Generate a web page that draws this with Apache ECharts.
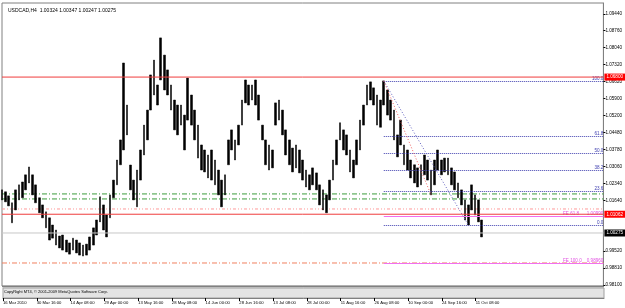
<!DOCTYPE html>
<html>
<head>
<meta charset="utf-8">
<script src="https://cdn.jsdelivr.net/npm/echarts@6/dist/echarts.min.js"></script>
<style>
html, body { margin: 0; padding: 0; background: #fff; }
#main { width: 625px; height: 308px; }
</style>
</head>
<body>
<div id="main"></div>
<script>
// tick labels of the time scale, one every 10 slots
var dates = ['16 Mar 2010', '30 Mar 16:00', '14 Apr 08:00', '29 Apr 00:00', '13 May 16:00', '28 May 08:00',
    '14 Jun 00:00', '28 Jun 16:00', '13 Jul 08:00', '28 Jul 00:00', '11 Aug 16:00', '26 Aug 08:00',
    '10 Sep 00:00', '24 Sep 16:00', '11 Oct 08:00'];
var slotCount = 179;

// price axis labels
var priceTicks = [1.0944, 1.0876, 1.0804, 1.0732, 1.0662, 1.0590, 1.0520, 1.0448, 1.0378, 1.0306,
    1.0234, 1.0164, 0.9952, 0.9881, 0.9810];

// high / low of each slot
var highs = [
    1.0208, 1.0200, 1.0183, 1.0154, 1.0208, 1.0229, 1.0241, 1.0271, 1.0304, 1.0271,
    1.0229, 1.0175, 1.0145, 1.0116, 1.0091, 1.0061, 1.0040, 1.0015, 1.0019, 0.9998,
    0.9986, 1.0006, 0.9998, 0.9986, 0.9977, 0.9981, 1.0011, 1.0049, 1.0082, 1.0179,
    1.0145, 1.0103, 1.0187, 1.0249, 1.0333, 1.0417, 1.0739, 1.0563, 1.0312, 1.0249,
    1.0291, 1.0375, 1.0479, 1.0542, 1.0689, 1.0751, 1.0647, 1.0844, 1.0772, 1.0710,
    1.0647, 1.0584, 1.0563, 1.0563, 1.0521, 1.0676, 1.0605, 1.0542, 1.0479, 1.0396,
    1.0375, 1.0354, 1.0375, 1.0333, 1.0291, 1.0249, 1.0271, 1.0417, 1.0459, 1.0417,
    1.0479, 1.0584, 1.0668, 1.0647, 1.0647, 1.0668, 1.0605, 1.0479, 1.0417, 1.0396,
    1.0375, 1.0572, 1.0584, 1.0542, 1.0459, 1.0417, 1.0383, 1.0396, 1.0375, 1.0333,
    1.0291, 1.0271, 1.0300, 1.0279, 1.0229, 1.0208, 1.0187, 1.0249, 1.0333, 1.0417,
    1.0489, 1.0459, 1.0438, 1.0375, 1.0333, 1.0417, 1.0500, 1.0563, 1.0647, 1.0660,
    1.0635, 1.0605, 1.0584, 1.0664, 1.0626, 1.0584, 1.0542, 1.0438, 1.0500, 1.0396,
    1.0375, 1.0333, 1.0313, 1.0300, 1.0313, 1.0354, 1.0333, 1.0291, 1.0333, 1.0375,
    1.0333, 1.0341, 1.0341, 1.0300, 1.0283, 1.0237, 1.0208, 1.0166, 1.0145, 1.0229,
    1.0187, 1.0166, 1.0082
];
var lows = [
    1.0166, 1.0158, 1.0141, 1.0070, 1.0124, 1.0166, 1.0175, 1.0208, 1.0237, 1.0187,
    1.0154, 1.0112, 1.0091, 1.0049, 0.9998, 1.0006, 0.9977, 0.9965, 0.9956, 0.9948,
    0.9939, 0.9956, 0.9944, 0.9935, 0.9931, 0.9935, 0.9956, 0.9977, 1.0019, 1.0074,
    1.0040, 1.0011, 1.0091, 1.0175, 1.0229, 1.0313, 1.0375, 1.0438, 1.0208, 1.0166,
    1.0137, 1.0249, 1.0354, 1.0417, 1.0542, 1.0605, 1.0563, 1.0668, 1.0626, 1.0605,
    1.0542, 1.0459, 1.0438, 1.0479, 1.0375, 1.0500, 1.0479, 1.0417, 1.0341, 1.0291,
    1.0283, 1.0258, 1.0249, 1.0229, 1.0187, 1.0137, 1.0187, 1.0313, 1.0375, 1.0333,
    1.0396, 1.0479, 1.0572, 1.0563, 1.0584, 1.0563, 1.0500, 1.0417, 1.0313, 1.0291,
    1.0300, 1.0479, 1.0500, 1.0438, 1.0354, 1.0313, 1.0283, 1.0300, 1.0279, 1.0249,
    1.0220, 1.0208, 1.0229, 1.0208, 1.0145, 1.0124, 1.0112, 1.0166, 1.0249, 1.0313,
    1.0417, 1.0375, 1.0354, 1.0283, 1.0258, 1.0313, 1.0375, 1.0479, 1.0563, 1.0584,
    1.0563, 1.0479, 1.0470, 1.0563, 1.0521, 1.0500, 1.0417, 1.0346, 1.0396, 1.0313,
    1.0291, 1.0258, 1.0237, 1.0220, 1.0229, 1.0271, 1.0249, 1.0187, 1.0229, 1.0291,
    1.0271, 1.0283, 1.0271, 1.0229, 1.0208, 1.0175, 1.0145, 1.0082, 1.0061, 1.0124,
    1.0103, 1.0074, 1.0011
];

var lastPrice = 1.00275;
var redLevels = [1.0680, 1.0106];
var redLabels = ['1.06800', '1.01062'];
var greenLevels = [1.0191, 1.0170];
var salmonLevel = 1.0128;
var orangeLevel = 0.9902;

// fibonacci retracement: from slot 113 (high) to slot 138 (low)
var fibStart = 113, fibLow = 138;
var fibNames = ['100.0', '61.8', '50.0', '38.2', '23.6', '0.0'];
var fibPrices = [1.0664, 1.0433, 1.0362, 1.0291, 1.0203, 1.0061];
var swingLow = 127;
// fibonacci expansion
var feNames = ['FE 61.8      1.00990', 'FE 100.0    0.98960'];
var fePrices = [1.0098, 0.9900];

var cats = [];
for (var i = 0; i < slotCount; i++) cats.push(String(i));

var candles = highs.map(function (h, k) {
    return [lows[k], h, lows[k], h];
});

function isDateTick(i) {
    return i % 10 === 0 && i / 10 < dates.length;
}

var noLabel = { show: false };

function segSeries(color, type, items) {
    return {
        type: 'line', data: [], xAxisIndex: 0, yAxisIndex: 0, z: 3,
        markLine: { silent: true, symbol: 'none', animation: false, precision: 5,
            lineStyle: { color: color, width: 1, type: type }, label: noLabel, data: items }
    };
}

// full-width level drawn as a plain line from the first to the last slot
function levelSeries(v, color, type, boxText, boxColor) {
    var s = {
        type: 'line', xAxisIndex: 0, yAxisIndex: 0, z: 3, silent: true, symbol: 'none',
        data: [[0, v], [slotCount - 1, v]],
        lineStyle: { color: color, width: 1, type: type }
    };
    if (boxText) {
        s.z = 5;
        s.endLabel = { show: true, formatter: boxText, distance: 1, color: '#fff', backgroundColor: boxColor,
            padding: [1, 2], fontSize: 4.6, fontFamily: 'Liberation Sans' };
    }
    return s;
}

var fibItems = fibPrices.map(function (v, k) {
    return [
        { coord: [fibStart, v], label: { show: true, position: 'insideEndTop', distance: 0, formatter: fibNames[k],
            color: '#4040b0', fontSize: 4.6, fontFamily: 'Liberation Sans' } },
        { coord: [slotCount - 1, v] }
    ];
});
var feItems = fePrices.map(function (v, k) {
    return [
        { coord: [fibStart, v], label: { show: true, position: 'insideEndTop', distance: 0, formatter: feNames[k],
            color: '#e050e0', fontSize: 4.6, fontFamily: 'Liberation Sans' } },
        { coord: [slotCount - 1, v] }
    ];
});

var series = [
    levelSeries(lastPrice, '#c8c8c8', 'solid', '1.00275', '#000'),
    levelSeries(greenLevels[0], '#3c9c3c', [5, 2, 1, 2]),
    levelSeries(greenLevels[1], '#3c9c3c', [5, 2, 1, 2]),
    levelSeries(salmonLevel, '#ff9a9a', [3, 2, 1, 2, 1, 2]),
    levelSeries(orangeLevel, '#f08060', [5, 2, 1, 2]),
    segSeries('#4040b0', [1, 1], fibItems),
    segSeries('#f070f0', 'solid', feItems),
    segSeries('#6060c0', [1, 2], [[{ coord: [fibStart, fibPrices[0]] }, { coord: [fibLow, fibPrices[5]] }]]),
    segSeries('#f06060', [1, 2], [[{ coord: [fibStart, fibPrices[0]] }, { coord: [swingLow, lows[swingLow]] }]]),
    levelSeries(redLevels[0], '#f03c3c', 'solid', redLabels[0], '#ff0000'),
    levelSeries(redLevels[1], '#f03c3c', 'solid', redLabels[1], '#ff0000'),
    {
        type: 'candlestick',
        xAxisIndex: 0, yAxisIndex: 0, z: 4,
        data: candles,
        barWidth: 2.2,
        itemStyle: { color: '#000', color0: '#000', borderColor: '#000', borderColor0: '#000', borderWidth: 0.5 }
    }
];

var option = {
    animation: false,
    backgroundColor: '#fff',
    title: {
        text: 'USDCAD,H4  1.00324 1.00347 1.00247 1.00275',
        left: 3, top: 3,
        textStyle: { fontSize: 5, fontWeight: 'normal', color: '#000', fontFamily: 'Liberation Sans' }
    },
    grid: [
        { left: 2, top: 3, right: 21, bottom: 22, show: true, borderColor: '#808080', borderWidth: 1 },
        { left: 2, top: 288, right: 21, height: 10, show: true, borderColor: '#a0a0a0', borderWidth: 1,
            backgroundColor: '#e4e4e4' }
    ],
    xAxis: [
        { type: 'category', data: cats, boundaryGap: false, gridIndex: 0,
            axisLine: { show: false }, axisTick: { show: false }, axisLabel: { show: false }, splitLine: { show: false } },
        { type: 'category', data: cats, boundaryGap: false, gridIndex: 1,
            axisLine: { show: true, lineStyle: { color: '#808080' } },
            axisTick: { show: true, interval: function (i) { return isDateTick(i); }, length: 3,
                lineStyle: { color: '#000' } },
            axisLabel: { show: true, interval: function (i) { return isDateTick(i); }, margin: 3, align: 'left',
                fontSize: 4.2, color: '#000', fontFamily: 'Liberation Sans',
                formatter: function (v, i) { return dates[i / 10] || ''; } },
            splitLine: { show: false } }
    ],
    yAxis: [
        { type: 'value', position: 'right', gridIndex: 0, min: 0.98057, max: 1.0990, scale: true,
            axisLine: { show: true, lineStyle: { color: '#808080' } },
            axisTick: { show: true, length: 2, customValues: priceTicks, lineStyle: { color: '#000' } },
            axisLabel: { show: true, customValues: priceTicks, margin: 2, fontSize: 4.6, color: '#000',
                fontFamily: 'Liberation Sans', formatter: function (v) { return v.toFixed(5); } },
            splitLine: { show: false } },
        { type: 'value', position: 'right', gridIndex: 1, min: 0, max: 1,
            axisLine: { show: false }, axisTick: { show: false }, axisLabel: { show: false }, splitLine: { show: false } }
    ],
    series: series,
    graphic: [
        { type: 'text', left: 4, top: 290,
            style: { text: 'CopyRight MT4, \u00a9 2001-2009 MetaQuotes Software Corp.', fontSize: 4,
                fill: '#000', fontFamily: 'Liberation Sans' } },
        { type: 'line', shape: { x1: 2, y1: 286.5, x2: 604, y2: 286.5 }, style: { stroke: '#808080', lineWidth: 1.5 } }
    ]
};

echarts.init(document.getElementById('main')).setOption(option);
</script>
</body>
</html>
